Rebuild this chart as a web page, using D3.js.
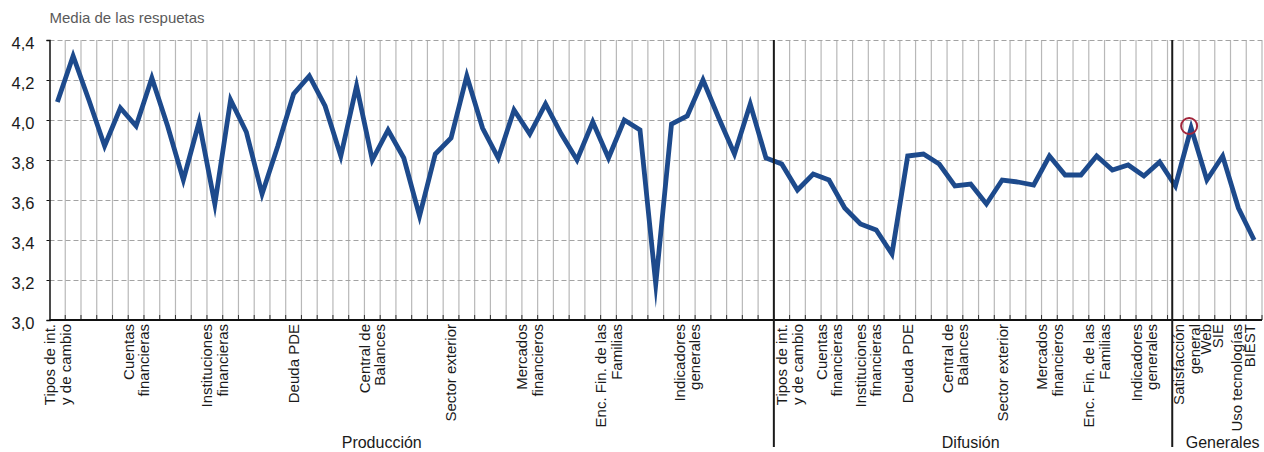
<!DOCTYPE html>
<html lang="es">
<head>
<meta charset="UTF-8">
<title>Media de las respuestas</title>
<style>
  body { margin: 0; background: #fff; }
  svg text { font-family: "Liberation Sans", Arial, sans-serif; }
</style>
</head>
<body>
<svg id="svg" width="1264" height="452"></svg>
<script src="https://d3js.org/d3.v7.min.js"></script>
<script>
// ------ DATA ------------------------
const groups = ['Producción', 'Difusión', 'Generales']

// media de las respuestas por pregunta, en orden de izquierda a derecha
const prodValues = [4.09, 4.32, 4.10, 3.87, 4.06, 3.97, 4.21, 3.97, 3.70, 3.99,
                    3.58, 4.10, 3.94, 3.63, 3.87, 4.13, 4.22, 4.07, 3.82, 4.17,
                    3.80, 3.95, 3.81, 3.52, 3.83, 3.91, 4.22, 3.96, 3.81, 4.05,
                    3.93, 4.08, 3.93, 3.80, 3.99, 3.81, 4.00, 3.95, 3.18, 3.98,
                    4.02, 4.20, 4.01, 3.83, 4.08, 3.81]
const difValues = [3.78, 3.65, 3.73, 3.70, 3.56, 3.48, 3.45, 3.33, 3.82, 3.83,
                   3.78, 3.67, 3.68, 3.58, 3.70, 3.69, 3.675, 3.82, 3.725, 3.725,
                   3.82, 3.75, 3.775, 3.72, 3.79]
const genValues = [3.67, 3.96, 3.70, 3.82, 3.56, 3.40]

// etiquetas del eje x y la pregunta (índice) en la que aparecen
const sectionLabels = ['Tipos de int.\ny de cambio', 'Cuentas\nfinancieras', 'Instituciones\nfinancieras',
                       'Deuda PDE', 'Central de\nBalances', 'Sector exterior', 'Mercados\nfinancieros',
                       'Enc. Fin. de las\nFamilias', 'Indicadores\ngenerales']
const prodLabelAt = [0, 5, 10, 15, 20, 25, 30, 35, 40]
const difLabelAt = [46.5, 49, 51.5, 54, 57, 60, 63, 66, 69]
const genLabels = ['Satisfacción\ngeneral', 'Web', 'SIE', 'Uso tecnologías', 'BIEST']
const genLabelAt = [71.7, 72.9, 73.7, 74.9, 75.7]

const groupBreaks = [45.5, 70.8]
const groupLabelAt = [20.6, 58, 74]
const highlightIndex = 72

const yTicks = [3.0, 3.2, 3.4, 3.6, 3.8, 4.0, 4.2, 4.4]
const yTitle = 'Media de las respuetas'

// CONSTANTS
const margin = { top: 40, right: 2, bottom: 132, left: 49.5 }
const width = 1264 - margin.left - margin.right
const height = 452 - margin.top - margin.bottom

const values = prodValues.concat(difValues, genValues)

// ------ SCALES ------------------------
const xscale = d3.scaleLinear()
    .domain([-0.5, values.length - 0.5])
    .range([margin.left, margin.left + width])
const yscale = d3.scaleLinear()
    .domain([3.0, 4.4])
    .range([margin.top + height, margin.top])

const svg = d3.select('#svg')
const es = d3.formatLocale({ decimal: ',', thousands: '.', grouping: [3], currency: ['', '€'] })

// ------ GRID ------------------------
// vertical lines between questions
svg.append('g')
    .selectAll('line')
    .data(d3.range(values.length))
    .join('line')
    .attr('x1', i => xscale(i + 0.5))
    .attr('x2', i => xscale(i + 0.5))
    .attr('y1', yscale(4.4))
    .attr('y2', yscale(3.0))
    .attr('stroke', '#b8b8b8')
    .attr('stroke-width', 1.2)

// dashed horizontal lines
svg.append('g')
    .attr('transform', `translate(${margin.left}, 0)`)
    .call(d3.axisLeft(yscale).tickValues(yTicks.slice(1)).tickSize(-width).tickFormat(''))
    .call(g => g.select('.domain').remove())
    .call(g => g.selectAll('line').attr('stroke', '#a3a3a3').attr('stroke-dasharray', '5,3'))

// ------ LINE ------------------------
const line = d3.line()
    .x((d, i) => xscale(i))
    .y(d => yscale(d))

svg.append('path')
    .datum(values)
    .attr('d', line)
    .attr('fill', 'none')
    .attr('stroke', '#1d4a8c')
    .attr('stroke-width', 4.8)
    .attr('stroke-linejoin', 'miter')
    .attr('stroke-miterlimit', 12)

// highlighted point
svg.append('circle')
    .attr('cx', xscale(highlightIndex) - 2)
    .attr('cy', yscale(values[highlightIndex]) - 2)
    .attr('r', 8)
    .attr('fill', 'none')
    .attr('stroke', '#a2253b')
    .attr('stroke-width', 2)

// ------ AXES ------------------------
const leftAxis = d3.axisLeft(yscale)
    .tickValues(yTicks)
    .tickSize(3)
    .tickPadding(12)
    .tickFormat(es.format('.1f'))

svg.append('g')
    .attr('transform', `translate(${margin.left}, 0)`)
    .call(leftAxis)
    .call(g => g.select('.domain').attr('stroke', '#111').attr('stroke-width', 1.5))
    .call(g => g.selectAll('.tick line').attr('stroke', '#111'))
    .call(g => g.selectAll('text').attr('font-size', 16.5).attr('fill', '#1a1a1a')
        .attr('dy', '0.5em').style('font-family', '"Liberation Sans", Arial, sans-serif'))

// bottom axis line and small ticks
const baseY = yscale(3.0)
svg.append('g')
    .selectAll('line')
    .data(d3.range(values.length))
    .join('line')
    .attr('x1', i => xscale(i + 0.5))
    .attr('x2', i => xscale(i + 0.5))
    .attr('y1', baseY - 5)
    .attr('y2', baseY)
    .attr('stroke', '#333')
    .attr('stroke-width', 1)

svg.append('line')
    .attr('x1', xscale(-0.5))
    .attr('x2', xscale(values.length - 0.5))
    .attr('y1', baseY)
    .attr('y2', baseY)
    .attr('stroke', '#111')
    .attr('stroke-width', 2)

// group separators
svg.append('g')
    .selectAll('line')
    .data(groupBreaks)
    .join('line')
    .attr('x1', d => xscale(d))
    .attr('x2', d => xscale(d))
    .attr('y1', yscale(4.4))
    .attr('y2', 447)
    .attr('stroke', '#1a1a1a')
    .attr('stroke-width', 2)

// rotated category labels
const tickLabels = sectionLabels.map((t, k) => ({ text: t, at: prodLabelAt[k] }))
    .concat(sectionLabels.map((t, k) => ({ text: t, at: difLabelAt[k] })))
    .concat(genLabels.map((t, k) => ({ text: t, at: genLabelAt[k] })))

const lineH = 15.5
const labelG = svg.append('g')
    .selectAll('g')
    .data(tickLabels)
    .join('g')
    .attr('transform', d => `translate(${xscale(d.at)}, ${baseY + 4}) rotate(-90)`)

labelG.each(function (d) {
    const rows = d.text.split('\n')
    const t = d3.select(this).append('text')
        .attr('text-anchor', 'end')
        .attr('font-size', 15)
        .attr('fill', '#1a1a1a')
    rows.forEach((r, k) => {
        t.append('tspan')
            .attr('x', 0)
            .attr('y', (k - (rows.length - 1) / 2) * lineH)
            .attr('dy', '0.36em')
            .text(r)
    })
})

// group names
svg.append('g')
    .selectAll('text')
    .data(groups)
    .join('text')
    .attr('x', (d, k) => xscale(groupLabelAt[k]))
    .attr('y', 448)
    .attr('text-anchor', 'middle')
    .attr('font-size', 16)
    .attr('fill', '#1a1a1a')
    .text(d => d)

// title
svg.append('text')
    .attr('x', margin.left)
    .attr('y', 23)
    .attr('font-size', 15)
    .attr('fill', '#5a5a5a')
    .text(yTitle)
</script>
</body>
</html>
